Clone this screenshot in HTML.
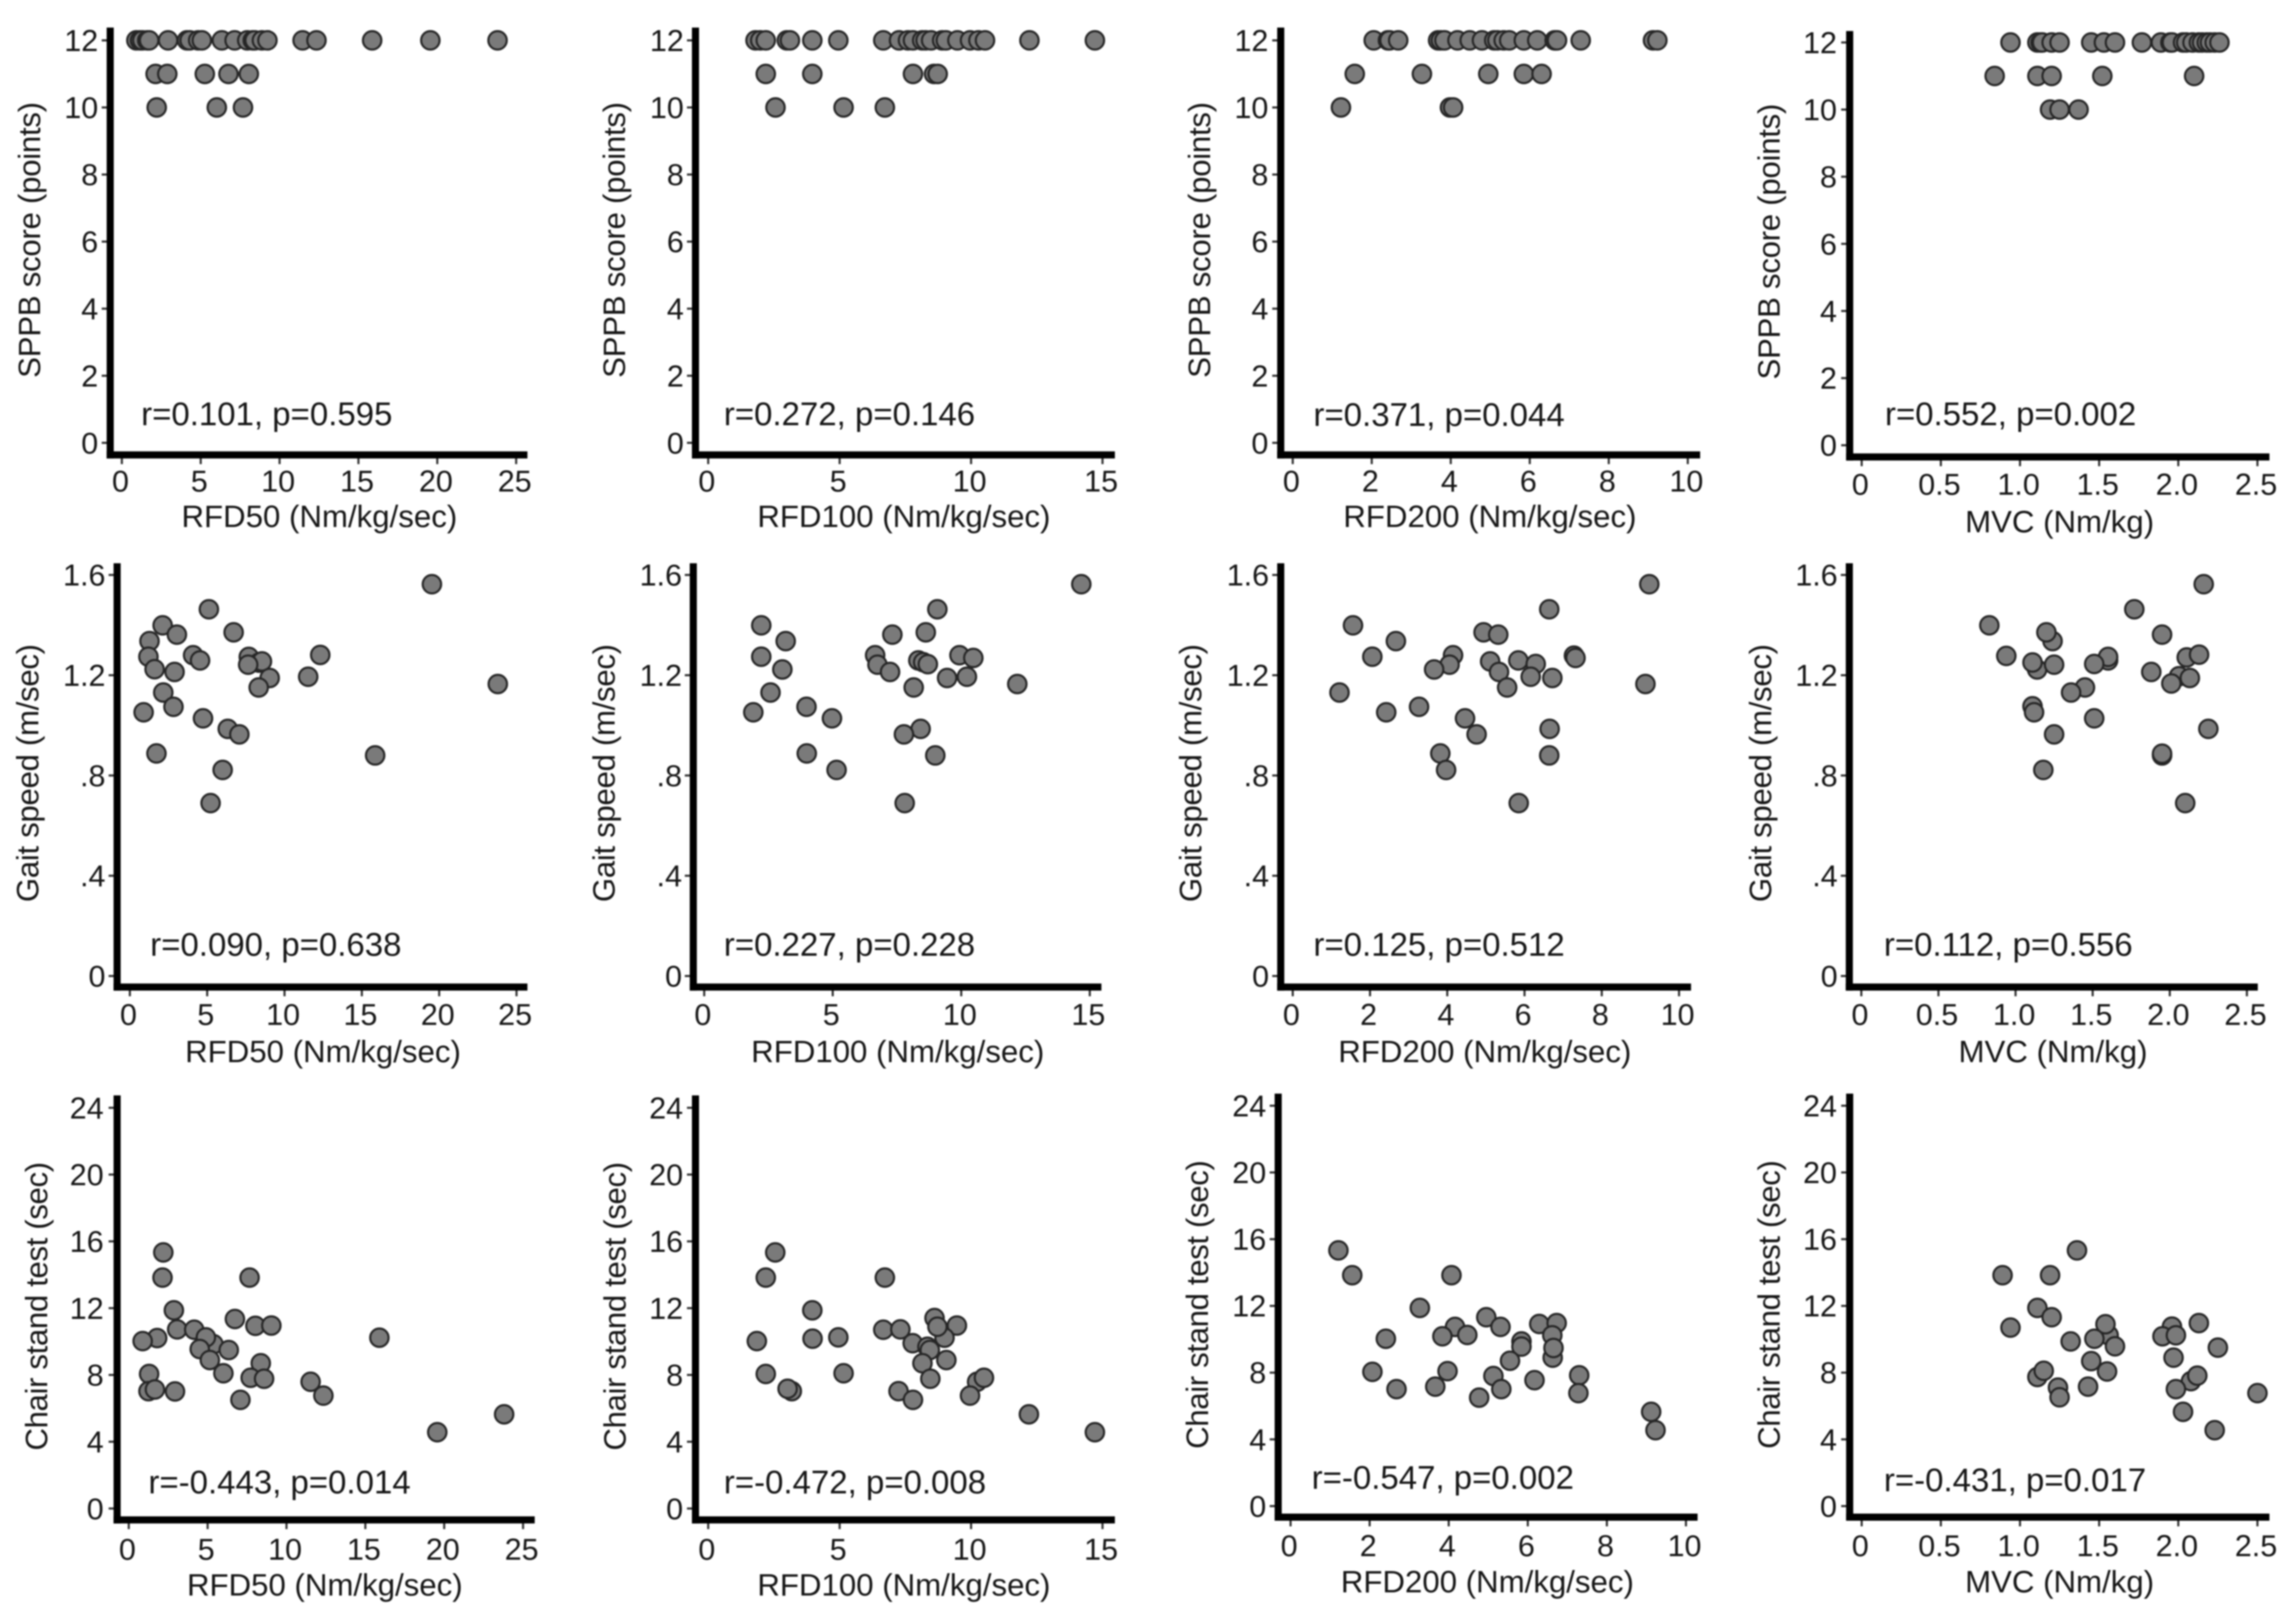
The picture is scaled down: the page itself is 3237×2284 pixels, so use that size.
<!DOCTYPE html>
<html lang="en">
<head>
<meta charset="utf-8">
<title>Correlation scatter plots</title>
<style>
html,body{margin:0;padding:0;background:#fff;}
#figure{display:block;width:3237px;height:2284px;filter:blur(1.1px);}
text{font-family:"Liberation Sans",Arial,sans-serif;fill:#161616;}
</style>
</head>
<body>
<svg id="figure" xmlns="http://www.w3.org/2000/svg" width="3237" height="2284" viewBox="0 0 3237 2284"></svg>
<script>
/* ---------- tick labels ---------- */
const rfd50Ticks = [0, 5, 10, 15, 20, 25];
const rfd100Ticks = [0, 5, 10, 15];
const rfd200Ticks = [0, 2, 4, 6, 8, 10];
const mvcTicks = [0, 0.5, 1, 1.5, 2, 2.5];
const mvcTickLabels = ['0', '0.5', '1.0', '1.5', '2.0', '2.5'];
const sppbTicks = [0, 2, 4, 6, 8, 10, 12];
const gaitTicks = [0, 0.4, 0.8, 1.2, 1.6];
const gaitTickLabels = ['0', '.4', '.8', '1.2', '1.6'];
const chairTicks = [0, 4, 8, 12, 16, 20, 24];

/* ---------- series values ---------- */
const sppbValues = [12,12,12,12,12,12,12,12,12,12,12,12,12,12,12,12,12,12,12,12,12,12,11,11,11,11,11,10,10,10];

const sppbRfd50 = [.92,1.15,1.3,1.61,1.73,2.93,4.13,4.3,4.84,5.07,6.34,7.15,7.95,8.3,8.42,8.88,9.23,11.46,12.34,15.87,19.56,23.82,2.14,2.88,5.26,6.76,8.05,2.21,6.02,7.68];
const sppbRfd100 = [1.8,1.98,2.19,2.99,3.11,3.96,4.95,6.66,7.26,7.6,7.79,8.14,8.27,8.48,8.9,9.04,9.48,9.96,10.28,10.53,12.22,14.71,2.19,3.96,7.79,8.59,8.73,2.56,5.15,6.72];
const sppbRfd200 = [2.05,2.41,2.45,2.67,3.68,3.75,3.84,4.17,4.48,4.79,5.1,5.18,5.34,5.48,5.85,6.19,6.63,6.65,6.69,7.29,9.12,9.23,1.57,3.27,4.95,5.85,6.3,1.22,3.98,4.06];
const sppbMvc = [.94,1.11,1.13,1.14,1.2,1.25,1.45,1.53,1.6,1.77,1.89,1.95,1.96,2.03,2.05,2.09,2.13,2.15,2.18,2.2,2.23,2.26,.84,1.11,1.2,1.52,2.1,1.19,1.25,1.37];

const gaitRfd50 = [19.53,5.11,2.12,3.04,6.71,1.27,1.2,4.09,4.54,1.6,2.89,7.69,8.35,8.54,7.65,9.04,8.33,11.53,12.31,23.79,2.16,2.82,.89,4.73,6.33,7.08,1.72,15.86,6,5.22];
const gaitRfd50Y = [1.563,1.463,1.399,1.362,1.371,1.336,1.274,1.28,1.259,1.224,1.213,1.273,1.25,1.255,1.242,1.189,1.151,1.194,1.281,1.165,1.131,1.074,1.052,1.028,.986,.964,.888,.88,.822,.69];

const gaitRfd100 = [14.67,9.07,2.22,7.32,8.62,3.17,2.22,6.65,9.93,10.47,6.74,3.04,7.23,8.33,8.52,8.7,9.45,10.22,8.15,12.18,2.58,3.98,1.91,4.97,8.42,7.77,3.99,8.99,5.15,7.8];
const gaitRfd100Y = [1.563,1.463,1.399,1.362,1.371,1.336,1.274,1.28,1.28,1.269,1.242,1.223,1.213,1.259,1.252,1.244,1.189,1.194,1.151,1.165,1.131,1.074,1.052,1.028,.986,.964,.888,.88,.822,.69];

const gaitRfd200 = [9.23,6.64,1.56,4.94,5.32,2.67,2.06,4.15,7.28,7.32,5.11,5.84,6.29,4.06,3.66,5.34,6.16,6.72,5.55,9.13,1.21,3.27,2.42,4.46,6.65,4.76,3.82,6.64,3.97,5.85];
const gaitRfd200Y = [1.563,1.463,1.399,1.371,1.362,1.336,1.274,1.28,1.278,1.269,1.255,1.259,1.245,1.242,1.223,1.213,1.194,1.189,1.151,1.165,1.131,1.074,1.052,1.028,.986,.964,.888,.88,.822,.69];

const gaitMvc = [2.22,1.77,.83,1.24,1.2,1.95,.94,1.6,1.6,1.51,1.14,1.11,1.25,1.88,2.06,2.13,2.01,2.11,2.19,1.45,1.36,1.11,1.12,1.51,2.25,1.25,1.95,1.95,1.18,2.1];
const gaitMvcY = [1.563,1.463,1.399,1.336,1.371,1.362,1.277,1.259,1.273,1.245,1.223,1.251,1.242,1.213,1.196,1.189,1.167,1.271,1.282,1.151,1.131,1.076,1.052,1.028,.986,.964,.88,.887,.822,.69];

const chairRfd50 = [2.19,2.14,7.66,2.86,6.73,8.03,9.04,3.07,4.15,5.37,4.89,1.8,.88,15.89,4.5,6.34,5.14,8.37,1.29,6,7.73,8.58,11.53,12.34,1.25,1.66,2.93,7.08,23.8,19.56];
const chairRfd50Y = [15.34,13.83,13.83,11.87,11.35,10.94,10.96,10.73,10.71,9.84,10.25,10.21,10.03,10.23,9.55,9.49,8.89,8.7,8.06,8.1,7.83,7.77,7.59,6.76,7.03,7.13,7.01,6.51,5.64,4.57];

const chairRfd100 = [2.55,2.19,6.72,3.96,8.61,9.46,8.99,6.66,7.31,8.72,3.97,4.95,1.85,7.78,8.34,8.43,9.06,8.15,2.19,5.15,8.45,10.23,10.49,3.18,3.02,7.24,7.79,9.96,12.2,14.71];
const chairRfd100Y = [15.34,13.83,13.83,11.87,11.41,10.96,10.23,10.71,10.73,10.89,10.17,10.25,10.03,9.9,9.69,9.49,8.89,8.7,8.06,8.1,7.77,7.59,7.83,7.03,7.17,7.03,6.51,6.76,5.64,4.57];

const chairRfd200 = [1.21,1.56,4.07,3.27,4.95,5.31,6.29,6.73,4.16,3.84,4.47,2.41,6.62,5.84,5.84,6.63,6.65,5.55,2.07,3.97,5.13,7.3,6.17,7.28,3.66,2.68,5.33,4.77,9.12,9.23];
const chairRfd200Y = [15.33,13.84,13.84,11.88,11.32,10.74,10.92,10.97,10.74,10.18,10.26,10.03,10.24,9.87,9.56,8.9,9.48,8.71,8.05,8.09,7.8,7.84,7.55,6.77,7.16,7.01,7.01,6.5,5.65,4.55];

const chairMvc = [1.36,.89,1.19,1.11,1.2,.94,1.56,1.54,2.13,1.96,1.47,1.9,1.985,1.32,1.6,2.25,1.97,1.45,1.11,1.15,1.55,2.08,2.12,1.24,1.43,1.985,1.25,2.5,2.03,2.23];
const chairMvcY = [15.33,13.84,13.84,11.88,11.32,10.7,10.24,10.9,10.97,10.76,10.03,10.18,10.24,9.87,9.58,9.5,8.9,8.69,7.74,8.11,8.07,7.49,7.82,7.1,7.16,7.01,6.52,6.77,5.65,4.55];

/* ---------- panel layout (positions measured on a zoomed grid, converted below) ---------- */
const ZOOM_X = 1.95;
const ZOOM_Y = 2.055;
const rowTicks = {
  sppb: { a: 1283, b: 117 },
  gait: { a: 1266, b: 104 },
  chair: { a: 1247, b: 86 },
  chairLow: { a: 1240, b: 80 },
  sppbMvc: { a: 1290, b: 123 }
};

const panels = [
  { id:'sppb-rfd50', ox:0, oy:0, xs:sppbRfd50, ys:sppbValues, xt:rfd50Ticks, yt:sppbTicks, xa:335, xb:1419, ya:rowTicks.sppb, vs:303, hs:1318, end:1450, top:80, xlb:1424, xtb:1527, xtc:878, ylr:270, ytb:110, ytc:695, ax:388, ab:1232, xTitle:'RFD50 (Nm/kg/sec)', yTitle:'SPPB score (points)', stat:'r=0.101, p=0.595' },
  { id:'sppb-rfd100', ox:800, oy:0, xs:sppbRfd100, ys:sppbValues, xt:rfd100Ticks, yt:sppbTicks, xa:387, xb:1471, ya:rowTicks.sppb, vs:352, hs:1318, end:1505, top:80, xlb:1424, xtb:1527, xtc:925, ylr:320, ytb:158, ytc:695, ax:430, ab:1232, xTitle:'RFD100 (Nm/kg/sec)', yTitle:'SPPB score (points)', stat:'r=0.272, p=0.146' },
  { id:'sppb-rfd200', ox:1620, oy:0, xs:sppbRfd200, ys:sppbValues, xt:rfd200Ticks, yt:sppbTicks, xa:395, xb:1481, ya:rowTicks.sppb, vs:362, hs:1318, end:1515, top:80, xlb:1424, xtb:1527, xtc:937, ylr:328, ytb:168, ytc:695, ax:452, ab:1234, xTitle:'RFD200 (Nm/kg/sec)', yTitle:'SPPB score (points)', stat:'r=0.371, p=0.044' },
  { id:'sppb-mvc', ox:2437, oy:0, xs:sppbMvc, ys:sppbValues, xt:mvcTicks, xl:mvcTickLabels, yt:sppbTicks, xa:366, xb:1454, ya:rowTicks.sppbMvc, vs:333, hs:1324, end:1487, top:90, xlb:1433, xtb:1542, xtc:910, ylr:298, ytb:140, ytc:700, ax:430, ab:1232, xTitle:'MVC (Nm/kg)', yTitle:'SPPB score (points)', stat:'r=0.552, p=0.002' },

  { id:'gait-rfd50', ox:0, oy:760, xs:gaitRfd50, ys:gaitRfd50Y, xt:rfd50Ticks, yt:gaitTicks, yl:gaitTickLabels, xa:357, xb:1420, ya:rowTicks.gait, vs:322, hs:1298, end:1450, top:70, xlb:1408, xtb:1516, xtc:888, ylr:290, ytb:105, ytc:678, ax:413, ab:1207, xTitle:'RFD50 (Nm/kg/sec)', yTitle:'Gait speed (m/sec)', stat:'r=0.090, p=0.638' },
  { id:'gait-rfd100', ox:800, oy:760, xs:gaitRfd100, ys:gaitRfd100Y, xt:rfd100Ticks, yt:gaitTicks, yl:gaitTickLabels, xa:376, xb:1436, ya:rowTicks.gait, vs:346, hs:1298, end:1468, top:70, xlb:1408, xtb:1516, xtc:908, ylr:315, ytb:130, ytc:678, ax:430, ab:1207, xTitle:'RFD100 (Nm/kg/sec)', yTitle:'Gait speed (m/sec)', stat:'r=0.227, p=0.228' },
  { id:'gait-rfd200', ox:1620, oy:760, xs:gaitRfd200, ys:gaitRfd200Y, xt:rfd200Ticks, yt:gaitTicks, yl:gaitTickLabels, xa:395, xb:1457, ya:rowTicks.gait, vs:362, hs:1298, end:1490, top:70, xlb:1408, xtb:1516, xtc:923, ylr:330, ytb:143, ytc:678, ax:452, ab:1207, xTitle:'RFD200 (Nm/kg/sec)', yTitle:'Gait speed (m/sec)', stat:'r=0.125, p=0.512' },
  { id:'gait-mvc', ox:2437, oy:760, xs:gaitMvc, ys:gaitMvcY, xt:mvcTicks, xl:mvcTickLabels, yt:gaitTicks, yl:gaitTickLabels, xa:365, xb:1425, ya:rowTicks.gait, vs:332, hs:1298, end:1455, top:70, xlb:1408, xtb:1516, xtc:892, ylr:300, ytb:117, ytc:678, ax:427, ab:1207, xTitle:'MVC (Nm/kg)', yTitle:'Gait speed (m/sec)', stat:'r=0.112, p=0.556' },

  { id:'chair-rfd50', ox:0, oy:1520, xs:chairRfd50, ys:chairRfd50Y, xt:rfd50Ticks, yt:chairTicks, xa:354, xb:1438, ya:rowTicks.chair, vs:322, hs:1280, end:1470, top:50, xlb:1395, xtb:1499, xtc:893, ylr:285, ytb:130, ytc:661, ax:408, ab:1203, xTitle:'RFD50 (Nm/kg/sec)', yTitle:'Chair stand test (sec)', stat:'r=-0.443, p=0.014' },
  { id:'chair-rfd100', ox:800, oy:1520, xs:chairRfd100, ys:chairRfd100Y, xt:rfd100Ticks, yt:chairTicks, xa:387, xb:1471, ya:rowTicks.chair, vs:352, hs:1280, end:1505, top:50, xlb:1395, xtb:1499, xtc:925, ylr:318, ytb:160, ytc:661, ax:430, ab:1203, xTitle:'RFD100 (Nm/kg/sec)', yTitle:'Chair stand test (sec)', stat:'r=-0.472, p=0.008' },
  { id:'chair-rfd200', ox:1620, oy:1520, xs:chairRfd200, ys:chairRfd200Y, xt:rfd200Ticks, yt:chairTicks, xa:389, xb:1476, ya:rowTicks.chairLow, vs:355, hs:1272, end:1508, top:45, xlb:1385, xtb:1490, xtc:930, ylr:322, ytb:162, ytc:656, ax:447, ab:1190, xTitle:'RFD200 (Nm/kg/sec)', yTitle:'Chair stand test (sec)', stat:'r=-0.547, p=0.002' },
  { id:'chair-mvc', ox:2437, oy:1520, xs:chairMvc, ys:chairMvcY, xt:mvcTicks, xl:mvcTickLabels, yt:chairTicks, xa:366, xb:1454, ya:rowTicks.chairLow, vs:333, hs:1272, end:1487, top:45, xlb:1385, xtb:1490, xtc:910, ylr:298, ytb:140, ytc:656, ax:427, ab:1197, xTitle:'MVC (Nm/kg)', yTitle:'Chair stand test (sec)', stat:'r=-0.431, p=0.017' }
];

/* ---------- drawing ---------- */
const SVG_NS = 'http://www.w3.org/2000/svg';
const figure = document.getElementById('figure');
const TICK_FONT = 43;
const TITLE_FONT = 44;
const STAT_FONT = 46.5;
const DOT_RADIUS = 13;
const TITLE_LENGTHS = { 'SPPB score (points)': 389, 'Gait speed (m/sec)': 364, 'Chair stand test (sec)': 407 };

function make(tag, parent, attrs) {
  const el = document.createElementNS(SVG_NS, tag);
  for (const key in attrs) { el.setAttribute(key, attrs[key]); }
  parent.appendChild(el);
  return el;
}

function drawPanel(p) {
  const px = z => p.ox + z / ZOOM_X;
  const py = z => p.oy + z / ZOOM_Y;

  const xFirst = p.xt[0];
  const xLast = p.xt[p.xt.length - 1];
  const yFirst = p.yt[0];
  const yLast = p.yt[p.yt.length - 1];
  const xScale = v => px(p.xa) + (v - xFirst) / (xLast - xFirst) * (px(p.xb) - px(p.xa));
  const yScale = v => py(p.ya.a) + (v - yFirst) / (yLast - yFirst) * (py(p.ya.b) - py(p.ya.a));

  const group = make('g', figure, {});
  
  

  // x ticks and labels
  p.xt.forEach((tick, i) => {
    const line = make('line', group, { x1: xScale(tick), x2: xScale(tick), y1: py(p.hs), y2: py(p.hs) + 13, stroke: '#333', 'stroke-width': 3 });
    
    
    const label = make('text', group, { x: xScale(tick) - 2, y: py(p.xlb), 'font-size': TICK_FONT, 'text-anchor': 'middle' });
    
    
    label.textContent = p.xl ? p.xl[i] : String(tick);
  });

  // y ticks and labels
  p.yt.forEach((tick, i) => {
    const line = make('line', group, { x1: px(p.vs) - 12, x2: px(p.vs), y1: yScale(tick), y2: yScale(tick), stroke: '#333', 'stroke-width': 3 });
    
    
    const label = make('text', group, { x: px(p.ylr), y: yScale(tick) + 15, 'font-size': TICK_FONT, 'text-anchor': 'end' });
    
    
    label.textContent = p.yl ? p.yl[i] : String(tick);
  });

  // axis lines
  const yAxis = make('line', group, { x1: px(p.vs), x2: px(p.vs), y1: py(p.top), y2: py(p.hs) + 5, stroke: '#000', 'stroke-width': 10 });
  
  
  const xAxis = make('line', group, { x1: px(p.vs) - 5, x2: px(p.end), y1: py(p.hs), y2: py(p.hs), stroke: '#000', 'stroke-width': 10 });
  
  

  // points
  p.xs.forEach((value, i) => {
    const dot = make('circle', group, { cx: xScale(value), cy: yScale(p.ys[i]), r: DOT_RADIUS, fill: '#7a7a7a', stroke: '#262626', 'stroke-width': 3 });
    
    
  });

  // axis titles
  const xTitle = make('text', group, { x: px(p.xtc), y: py(p.xtb), 'font-size': TITLE_FONT, 'text-anchor': 'middle' });
  
  
  xTitle.textContent = p.xTitle;

  const yTitle = make('text', group, {
    transform: 'translate(' + px(p.ytb) + ',' + py(p.ytc) + ') rotate(-90)',
    'font-size': TITLE_FONT, 'text-anchor': 'middle',
    textLength: TITLE_LENGTHS[p.yTitle], lengthAdjust: 'spacing'
  });
  
  
  yTitle.textContent = p.yTitle;

  // correlation annotation
  const stat = make('text', group, { x: px(p.ax), y: py(p.ab), 'font-size': STAT_FONT });
  
  
  stat.textContent = p.stat;
}

panels.forEach(drawPanel);
</script>
</body>
</html>
